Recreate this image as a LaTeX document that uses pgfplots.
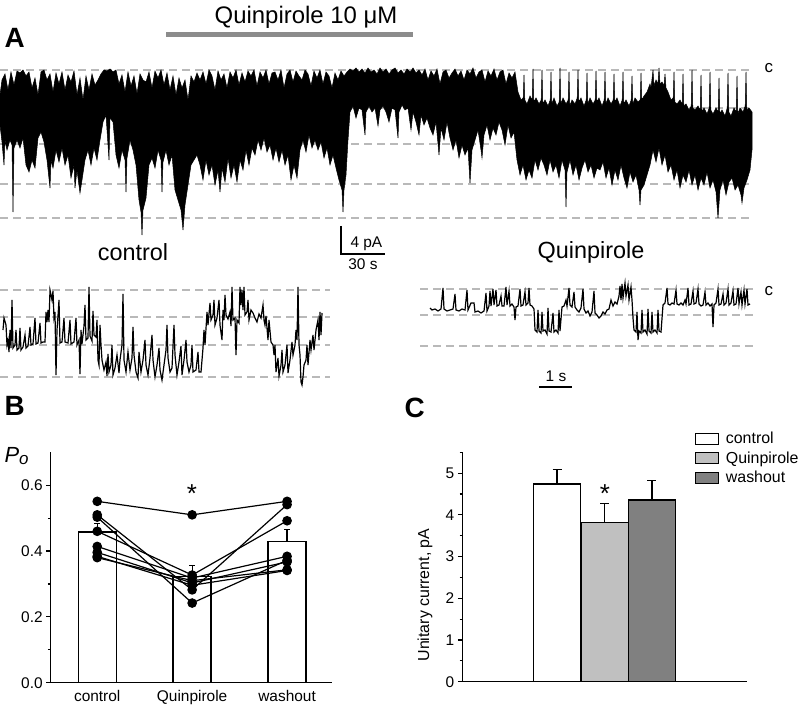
\documentclass[border=0pt]{standalone}
\usepackage{fontspec}
\setmainfont{Liberation Sans}
\usepackage{pgfplots}
\pgfplotsset{compat=1.18}

\definecolor{dashgrey}{RGB}{185,185,185}
\definecolor{bargrey}{RGB}{140,140,140}
\definecolor{quinfill}{RGB}{192,192,192}
\definecolor{washfill}{RGB}{128,128,128}
\newcommand\fs[1]{\fontsize{#1}{#1}\selectfont}

\pgfplotsset{
  panel/.style={scale only axis, axis x line*=bottom, axis y line*=left,
    axis line style={-, line width=1.4bp}, tick align=outside,
    major tick length=4.5bp, minor tick length=2.8bp,
    every tick/.style={black, line width=1.2bp},
    tick label style={font=\fs{15.5}},
    /pgf/number format/assume math mode=true},
  box legend/.style={legend image code/.code={\path[draw=none, fill=none] (0bp,0bp) -- (28bp,0bp);
      \draw[##1, line width=1.2bp] (0bp,-5.5bp) rectangle (23bp,5.5bp);}},
  cap/.style={error bars/.cd, y dir=plus, y explicit,
    error bar style={black, line width=1.3bp},
    error mark options={rotate=90, mark size=#1, line width=1.3bp}},
  lvl/.style={dashgrey, line width=1.8bp, dash pattern=on 8bp off 5bp},
}

\begin{document}
\begin{tikzpicture}
\path[use as bounding box] (0bp,0bp) rectangle (798bp,706bp);

% ---------- panel A: traces, in picture pixels ----------
\begin{axis}[at={(0bp,0bp)}, anchor=south west, scale only axis,
  width=798bp, height=706bp, xmin=0, xmax=798, ymin=0, ymax=706,
  y dir=reverse, hide axis, clip=false]

% dashed current levels
\addplot[lvl] coordinates {(0,70) (753,70)};
\addplot[lvl] coordinates {(0,108) (753,108)};
\addplot[lvl] coordinates {(0,144) (753,144)};
\addplot[lvl] coordinates {(0,184) (753,184)};
\addplot[lvl] coordinates {(0,218) (753,218)};
\addplot[lvl] coordinates {(0,290) (330,290)};
\addplot[lvl] coordinates {(0,317) (330,317)};
\addplot[lvl] coordinates {(0,345) (330,345)};
\addplot[lvl] coordinates {(0,377) (330,377)};
\addplot[lvl] coordinates {(420,289) (757,289)};
\addplot[lvl] coordinates {(420,315) (757,315)};
\addplot[lvl] coordinates {(420,346) (757,346)};

% drug application bar
\addplot[bargrey, line width=5bp] coordinates {(166,35) (413,35)};

% long recording: upper edge left to right, then lower edge right to left
\addplot[fill=black, draw=black, line width=0.5bp] coordinates {
(0,95)(2,80)(5,74)(8,90)(11,72)(14,85)(17,71)(20,73)(23,70)(26,76)(29,72)(32,88)(35,78)(38,95)(41,72)(44,70)(47,80)(50,74)(53,92)(56,73)(59,84)(62,72)(65,90)(68,75)(71,82)(74,71)(77,95)(80,78)(83,100)(86,76)(89,90)(92,74)(95,85)(98,80)(101,74)(104,70)(107,71)(110,69)(113,72)(116,70)(119,84)(122,75)(125,92)(128,72)(131,86)(134,76)(137,94)(140,74)(143,80)(146,82)(149,72)(152,88)(155,71)(158,78)(161,70)(164,85)(167,73)(170,90)(173,76)(176,95)(179,78)(182,88)(185,80)(188,100)(191,76)(194,82)(197,73)(200,80)
(203,72)(206,84)(209,70)(212,76)(215,90)(218,71)(221,80)(224,74)(227,88)(230,72)(233,78)(236,70)(239,85)(242,73)(245,82)(248,71)(251,76)(254,70)(257,86)(260,72)(263,78)(266,70)(269,84)(272,73)(275,72)(278,80)(281,70)(284,88)(287,74)(290,70)(293,82)(296,71)(299,76)(302,80)(305,70)(308,74)(311,86)(314,71)(317,78)(320,70)(323,84)(326,72)(329,76)(332,88)(335,73)(338,80)(341,71)(344,76)(347,72)(350,69)
(353,71)(356,68)(359,72)(362,69)(365,73)(368,68)(371,72)(374,70)(377,74)(380,68)(383,72)(386,69)(389,74)(392,70)(395,68)(398,73)(401,70)(404,74)(407,69)(410,72)(413,68)(416,73)(419,70)(422,75)(425,69)(428,80)(431,71)(434,76)(437,69)(440,84)(443,72)(446,70)(449,78)(452,73)(455,69)(458,76)(461,71)(464,80)(467,70)(470,74)(473,68)(476,78)(479,72)(482,70)(485,82)(488,71)(491,76)(494,69)(497,80)(500,72)(503,70)(506,84)(509,73)(512,78)(515,72)
(518,92)(521,100)(523.2,98)(524,75)(524.8,100)(527,104)(530,96)(532.2,100)(533,69)(533.8,102)(536,98)(539,104)(541.2,100)(542,70)(542.8,104)(545,100)(548,106)(550.2,100)(551,72)(551.8,104)(554,98)(557,106)(559.2,102)(560,68)(560.8,104)(563,98)(566,104)(568.2,100)(569,72)(569.8,106)(572,100)(575,104)(577.2,98)(578,70)(578.8,102)(581,98)(584,106)(586.2,100)(587,73)(587.8,104)(590,98)(593,104)(595.2,100)(596,71)(596.8,102)(599,98)(602,106)(604.2,100)(605,72)(605.8,104)(608,98)(611,104)(613.2,100)(614,74)(614.8,102)(617,98)(620,106)(622.2,100)(623,72)(623.8,104)(626,100)(629,106)(631.2,100)(632,76)(632.8,104)(635,98)(638,102)(640.2,100)(641,73)(641.8,100)(644,96)(647,92)(650,84)(651,88)(653,70)(654,86)(656,80)(658,84)(659,68)(660,84)(662,82)(664,86)(665,74)(666,88)(668,92)(671,100)(673.2,98)(674,72)(674.8,102)(677,104)(680,100)(682.2,104)(683,74)(683.8,106)(686,104)(689,110)(691.2,106)(692,70)(692.8,108)(695,110)(698,106)(700.2,110)(701,75)(701.8,112)(704,108)(707,114)(709.2,108)(710,72)(710.8,110)(713,114)(716,108)(718.2,112)(719,78)(719.8,114)(722,110)(725,116)(727.2,108)(728,73)(728.8,112)(731,116)(734,108)(736.2,112)(737,76)(737.8,114)(740,108)(743,112)(745.2,106)(746,72)(746.8,110)(749,108)(752,112)
(752,150)(750,170)(747,180)(744,188)(742,203)(741,195)(738,185)(735,190)(732,178)(729,182)(726,195)(723,180)(720,190)(718,218)(716,192)(713,180)(710,188)(707,172)(704,185)(701,178)(698,190)(695,175)(692,185)(689,170)(686,182)(683,175)(680,188)(677,170)(674,180)(671,165)(668,172)(665,155)(662,165)(659,148)(656,162)(653,150)(650,165)(647,175)(644,185)(641,190)(640,205)(639,190)(636,175)(633,182)(630,172)(627,188)(624,178)(621,165)(618,180)(615,170)(612,185)(609,168)(606,178)(603,162)(600,170)(597,168)(594,178)(591,165)(588,172)(585,160)(582,168)(579,180)(576,165)(573,175)(570,160)(567,172)(566,207)(565,170)(562,160)(559,178)(556,165)(553,172)(550,160)(547,175)(544,165)(541,158)(538,170)(535,160)(532,178)(529,170)(526,180)(523,165)(520,175)(517,160)
(514,132)(511,138)(508,125)(505,145)(502,130)(499,122)(496,135)(493,128)(490,140)(487,125)(484,135)(482,158)(481,150)(478,130)(475,140)(472,150)(470,183)(468,148)(465,155)(462,145)(459,158)(456,140)(453,150)(450,138)(447,122)(444,140)(441,128)(439,155)(436,122)(433,135)(430,128)(427,118)(424,125)(421,115)(419,135)(416,122)(413,112)(411,130)(408,108)(405,110)(402,105)(399,112)(398,138)(395,110)(392,108)(389,122)(386,112)(383,106)(380,110)(378,126)(375,108)(372,112)(369,106)(366,112)(365,135)(362,110)(359,108)(356,118)(353,106)(350,112)
(348,140)(346,175)(344,190)(343,212)(342,190)(339,180)(336,168)(333,155)(330,165)(327,148)(324,158)(321,142)(318,150)(315,140)(312,148)(309,135)(306,152)(303,140)(300,150)(297,178)(294,165)(291,180)(288,155)(285,165)(282,150)(279,162)(276,148)(273,160)(270,145)(267,152)(264,138)(261,150)(258,140)(255,155)(252,148)(249,165)(246,150)(243,170)(240,160)(237,182)(234,165)(231,178)(228,158)(225,182)(222,168)(220,192)(218,170)(215,185)(212,165)(209,175)(206,160)(203,180)
(200,165)(197,155)(194,160)(191,165)(188,185)(185,205)(183,230)(181,210)(178,200)(175,190)(172,155)(169,165)(166,150)(163,162)(162,192)(161,160)(158,150)(155,168)(152,158)(149,165)(146,198)(143,210)(142,235)(141,212)(139,200)(136,165)(133,150)(130,140)(127,158)(126,192)(125,160)(122,150)(119,168)(116,155)(113,122)(110,118)(109,160)(106,115)(103,122)(100,140)(97,160)(94,148)(91,165)(88,150)(85,160)(82,180)(80,193)(77,170)(75,188)(74,165)(71,178)(68,155)(65,165)(62,148)(59,162)(56,150)(53,168)(51,160)(50,188)(47,160)(44,142)(41,132)(38,138)(35,168)(32,160)(29,172)(26,165)(23,138)(20,148)(17,140)(14,148)(13,212)(12,145)(10,140)(7,150)(5,140)(4,165)(2,142)(0,125)
} -- cycle;

% control trace (expanded)
\addplot[black, line width=1.2bp] coordinates {
(3,330)(4,318)(6,325)(7,345)(8,340)(9,352)(10,330)(11,348)(12,300)(13,348)(15,345)(16,330)(17,350)(19,348)(20,328)(21,350)(23,347)(25,335)(26,348)(28,346)(30,327)(31,345)(33,344)(35,318)(36,344)(38,343)(40,323)(41,343)(43,342)(45,342)(46,312)(47,322)(48,310)(49,322)(50,290)(52,300)(53,291)(54,318)(55,312)(56,375)(57,330)(58,316)(59,300)(60,343)(62,342)(64,318)(65,342)(68,343)(70,320)(71,344)(74,342)(76,318)(77,345)(79,340)(80,374)(81,330)(82,344)(84,326)(85,305)(86,340)(88,338)(89,287)(90,336)(92,341)(93,311)(94,335)(96,337)(97,320)(98,360)(99,365)(100,325)(101,345)(102,360)(104,370)(106,362)(107,376)(108,354)(109,372)(111,365)(112,345)(113,375)(115,368)(117,355)(119,373)(120,360)(122,345)(123,294)(124,360)(126,372)(128,352)(130,370)(132,358)(133,327)(134,355)(136,372)(138,378)(139,352)(141,372)(143,360)(145,340)(146,365)(148,375)(150,358)(152,335)(153,360)(155,377)(157,365)(159,348)(160,370)(162,380)(164,365)(166,350)(167,325)(168,358)(170,372)(172,368)(174,325)(175,355)(177,375)(179,362)(181,346)(182,375)(184,360)(186,340)(187,362)(189,372)(191,365)(192,345)(193,372)(196,370)(198,352)(199,372)(201,372)(203,348)(204,330)(205,345)(207,312)(208,325)(210,303)(211,320)(213,315)(214,300)(215,325)(217,318)(219,300)(220,325)(222,340)(223,310)(224,320)(225,295)(226,315)(228,319)(230,312)(231,326)(232,287)(233,320)(235,318)(236,355)(237,320)(239,323)(240,287)(241,305)(242,290)(243,310)(244,287)(245,315)(247,312)(248,300)(249,320)(251,310)(253,313)(255,318)(257,322)(259,314)(261,318)(263,305)(264,320)(265,325)(266,316)(268,340)(269,320)(271,342)(273,345)(274,355)(275,345)(276,372)(278,358)(279,376)(281,365)(282,350)(283,372)(285,365)(287,345)(288,373)(290,360)(292,342)(293,355)(295,345)(296,330)(297,340)(298,287)(299,345)(300,355)(301,382)(302,385)(303,377)(304,365)(306,360)(307,345)(308,365)(310,340)(311,350)(313,335)(314,350)(316,330)(318,320)(319,340)(320,312)(321,335)(322,313)
};

% quinpirole trace (expanded)
\addplot[black, line width=1.2bp] coordinates {
(430,308)(432,310)(435,309)(438,311)(441,309)(443,288)(444,309)(447,311)(450,310)(453,309)(455,294)(456,310)(459,311)(462,309)(465,310)(467,290)(468,310)(471,303)(474,303)(475,312)(478,311)(481,313)(484,311)(486,293)(487,311)(489,306)(490,291)(491,306)(493,289)(494,305)(496,290)(497,306)(499,305)(501,296)(502,306)(504,306)(506,287)(507,305)(509,291)(510,306)(512,304)(514,307)(515,320)(516,307)(518,306)(520,289)(521,306)(523,305)(525,292)(526,305)(528,303)(529,288)(530,305)(532,306)(534,309)(535,330)(537,332)(538,310)(539,331)(541,333)(542,312)(543,331)(545,330)(547,334)(548,308)(549,331)(551,332)(553,313)(554,332)(556,330)(558,333)(559,310)(560,331)(562,307)(564,306)(566,300)(567,306)(569,288)(570,305)(572,307)(574,292)(575,307)(577,310)(579,312)(581,308)(583,289)(584,309)(586,313)(588,311)(590,316)(592,312)(594,291)(595,313)(597,315)(599,318)(601,316)(603,312)(605,314)(607,310)(609,309)(611,300)(613,306)(615,302)(617,304)(619,296)(620,286)(621,300)(622,284)(623,298)(625,283)(626,296)(628,285)(629,300)(631,287)(632,300)(633,318)(634,330)(636,332)(637,312)(638,340)(639,331)(641,333)(642,310)(643,332)(645,330)(647,334)(648,309)(649,331)(651,333)(652,312)(653,332)(655,330)(657,333)(658,310)(659,331)(661,332)(663,305)(665,303)(667,288)(668,304)(670,305)(672,303)(674,304)(676,290)(677,304)(679,305)(681,303)(683,305)(685,300)(686,304)(688,288)(689,305)(691,304)(693,291)(694,304)(696,303)(698,289)(699,304)(701,306)(703,305)(705,292)(706,305)(708,303)(710,306)(712,304)(713,327)(714,305)(716,303)(718,289)(719,305)(721,304)(723,294)(724,305)(726,303)(728,289)(729,305)(731,303)(733,291)(734,305)(736,304)(738,288)(739,304)(741,292)(742,305)(744,290)(745,304)(747,289)(748,305)(750,304)
};

% scale bars
\addplot[black, line width=1.4bp] coordinates {(341,226) (341,254) (385,254)};
\addplot[black, line width=1.4bp] coordinates {(539,387) (572,387)};

% labels
\node[anchor=base, font=\fs{24}] at (306,23.5) {Quinpirole 10 μM};
\node[anchor=base west, font=\fs{28}\bfseries] at (1,48) {A};
\node[anchor=base west, font=\fs{17}] at (761,73) {c};
\node[anchor=base west, font=\fs{17}] at (761,295) {c};
\node[anchor=base, font=\fs{23.5}] at (133,261) {control};
\node[anchor=base, font=\fs{23.5}] at (591,259) {Quinpirole};
\node[anchor=base west, font=\fs{15.5}] at (347,248) {4 pA};
\node[anchor=base, font=\fs{15.5}] at (363,270) {30 s};
\node[anchor=base, font=\fs{15.5}] at (556,381.5) {1 s};
\node[anchor=base west, font=\fs{28}\bfseries] at (1,415) {B};
\node[anchor=base west, font=\fs{28}\bfseries] at (401,417) {C};
\node[anchor=base west, font=\fs{22}\itshape] at (1,462) {P\raisebox{-2.5bp}{\fs{17}o}};
\node[anchor=base, font=\fs{26}] at (192,502.5) {*};
\node[anchor=base, font=\fs{26}] at (605,502.5) {*};
\end{axis}

% ---------- panel B: open probability ----------
\begin{axis}[panel, at={(50.7bp,23.3bp)}, anchor=south west,
  width=281bp, height=230.4bp, xmin=0.51, xmax=3.47, ymin=0, ymax=0.7,
  xtick={1,2,3}, xticklabels={control,Quinpirole,washout},
  major x tick style={draw=none},
  ytick={0,0.2,0.4,0.6}, minor ytick={0.1,0.3,0.5},
  yticklabel style={/pgf/number format/fixed, /pgf/number format/fixed zerofill, /pgf/number format/precision=1}]
\addplot[ybar, bar width=38bp, bar shift=0pt, fill=white, draw=black, line width=1.4bp, cap=3bp]
  coordinates {(1,0.458) +- (0,0.025) (2,0.323) +- (0,0.033) (3,0.429) +- (0,0.036)};
\addplot[black, line width=1.2bp, mark=*, mark size=4.2bp] coordinates {(1,0.551) (2,0.510) (3,0.551)};
\addplot[black, line width=1.2bp, mark=*, mark size=4.2bp] coordinates {(1,0.510) (2,0.282) (3,0.541)};
\addplot[black, line width=1.2bp, mark=*, mark size=4.2bp] coordinates {(1,0.503) (2,0.242) (3,0.372)};
\addplot[black, line width=1.2bp, mark=*, mark size=4.2bp] coordinates {(1,0.460) (2,0.327) (3,0.492)};
\addplot[black, line width=1.2bp, mark=*, mark size=4.2bp] coordinates {(1,0.414) (2,0.318) (3,0.384)};
\addplot[black, line width=1.2bp, mark=*, mark size=4.2bp] coordinates {(1,0.396) (2,0.303) (3,0.367)};
\addplot[black, line width=1.2bp, mark=*, mark size=4.2bp] coordinates {(1,0.384) (2,0.296) (3,0.341)};
\addplot[black, line width=1.2bp, mark=*, mark size=4.2bp] coordinates {(1,0.380) (2,0.310) (3,0.343)};
\end{axis}

% ---------- panel C: unitary current ----------
\begin{axis}[panel, at={(462.3bp,24.3bp)}, anchor=south west,
  width=284.4bp, height=229.4bp, xmin=-1, xmax=5, ymin=0, ymax=5.5,
  xtick=\empty, ytick={0,1,2,3,4,5}, minor ytick={0.5,1.5,2.5,3.5,4.5,5.5},
  ylabel={Unitary current, pA},
  ylabel style={at={(axis description cs:-0.131,0.378)}, anchor=center, font=\fs{16}},
  legend style={at={(0.808,1.106)}, anchor=north west, draw=none, fill=none,
    font=\fs{16}, row sep=2.5bp},
  legend cell align=left]
\addplot[ybar, bar width=47.3bp, bar shift=0pt, fill=white, draw=black, line width=1.3bp, box legend, cap=4.5bp]
  coordinates {(1,4.74) +- (0,0.34)};
\addlegendentry{control}
\addplot[ybar, bar width=47.3bp, bar shift=0pt, fill=quinfill, draw=black, line width=1.3bp, box legend, cap=4.5bp]
  coordinates {(2,3.82) +- (0,0.45)};
\addlegendentry{Quinpirole}
\addplot[ybar, bar width=47.3bp, bar shift=0pt, fill=washfill, draw=black, line width=1.3bp, box legend, cap=4.5bp]
  coordinates {(3,4.36) +- (0,0.46)};
\addlegendentry{washout}
\end{axis}
\end{tikzpicture}
\end{document}
